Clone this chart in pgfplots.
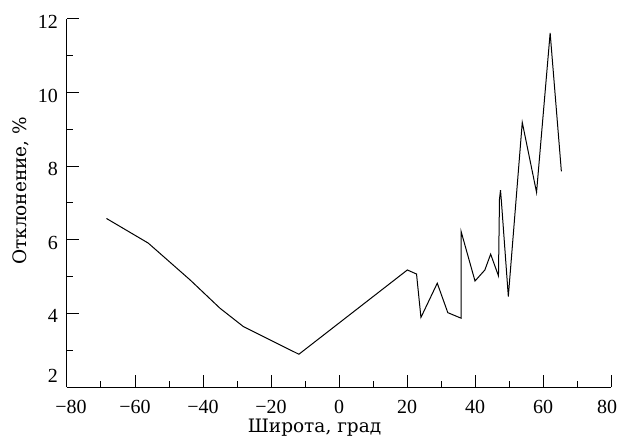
\documentclass[border=0pt]{standalone}
\usepackage{fontspec}
\setmainfont{Liberation Serif}
\newfontfamily\labelfont{DejaVu Serif}
\usepackage{pgfplots}
\pgfplotsset{compat=1.18}

\begin{document}
\begin{tikzpicture}
\useasboundingbox (-67bp,-49bp) rectangle (552bp,387bp);
\begin{axis}[
    scale only axis,
    width=544bp, height=368bp,
    xmin=-80, xmax=80, ymin=2, ymax=12,
    axis x line=bottom, axis y line=left,
    axis line style={-, line width=1bp},
    tick align=inside,
    major tick length=12bp, minor tick length=6bp,
    every tick/.style={black, line width=1bp},
    xtick={-80,-60,...,80},
    xticklabels={\hspace*{8bp}−80,−60,−40,−20,0,20,40,60,\hspace*{-8bp}80},
    ytick={2,4,...,12},
    yticklabels={\raisebox{14bp}[13.5bp][0pt]{2},4,6,8,10,12},
    minor x tick num=1, minor y tick num=1,
    ticklabel style={font=\fontsize{20bp}{22bp}\selectfont},
    xticklabel style={anchor=base, yshift=-26bp},
    yticklabel style={anchor=east, inner sep=0pt, xshift=-9bp, yshift=-3bp},
    label style={font=\labelfont\fontsize{18.5bp}{20bp}\selectfont},
    xlabel={Широта, град},
    ylabel={Отклонение, \%},
    xlabel style={at={(rel axis cs:0.455,0)}, anchor=base, yshift=-45bp},
    ylabel style={at={(rel axis cs:0,0.533)}, anchor=base, yshift=40bp},
    clip=false,
]
\addplot[black, line width=1bp] coordinates {
    (-68.4,6.58) (-56.1,5.91) (-43.8,4.91) (-35.0,4.14) (-28.1,3.64)
    (-11.8,2.89) (20.1,5.18) (22.8,5.07) (24.1,3.89) (28.9,4.82)
    (32.0,4.02) (35.9,3.87) (35.9,6.23) (40.0,4.88) (42.9,5.18)
    (44.6,5.61) (46.9,5.02) (47.2,7.10) (47.5,7.35) (47.8,7.00)
    (49.8,4.46) (53.9,9.19) (58.1,7.29) (62.1,11.62) (65.4,7.86)
};
\end{axis}
\end{tikzpicture}
\end{document}
